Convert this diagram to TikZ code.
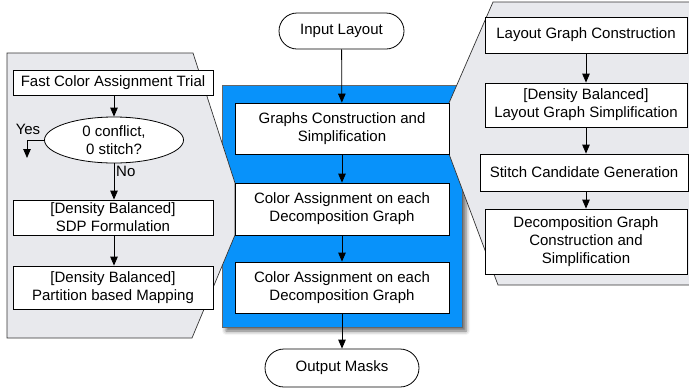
\documentclass[tikz,border=0pt]{standalone}
\usepackage{fontspec}
\setmainfont{Liberation Sans}
\usetikzlibrary{arrows.meta,shapes.geometric,shadows.blur}
\definecolor{bluebg}{RGB}{8,146,250}
\definecolor{panelgray}{RGB}{232,233,237}
\begin{document}
\begin{tikzpicture}[x=1pt,y=-1pt,
  box/.style={draw=black, line width=0.8pt, fill=white, align=center, inner sep=0pt,
    font=\fontsize{15}{18}\selectfont},
  term/.style={box, rounded corners=18pt},
  arr/.style={-{Triangle[length=9pt,width=7.5pt]}, line width=0.8pt},
  panel/.style={fill=panelgray, draw=black!80, line width=0.7pt},
  lbl/.style={font=\fontsize{15}{18}\selectfont, inner sep=0pt}]
\useasboundingbox (0,0) rectangle (689,389);

% blue container
\node[draw=black!60, line width=0.6pt, fill=bluebg, minimum width=240pt, minimum height=242pt, inner sep=0pt,
  blur shadow={shadow xshift=4pt, shadow yshift=-4pt, shadow blur radius=4pt, shadow opacity=60}]
  (blue) at (342,206) {};

% gray callout panels (on top of the blue container)
\draw[panel] (7,53) -- (193,53) -- (235,183) -- (235,235) -- (192,338) -- (7,338) -- cycle;
\draw[panel] (700,2) -- (493,2) -- (449,103) -- (449,154) -- (498,285) -- (700,285) -- cycle;

% centre nodes
\node[term, minimum width=125pt, minimum height=36pt] (input) at (341.5,31) {Input Layout};
\node[box, minimum width=214pt, minimum height=51pt] (graphs) at (342,128.5) {Graphs Construction and\\Simplification};
\node[box, minimum width=214pt, minimum height=52pt] (col1) at (342,209) {Color Assignment on each\\Decomposition Graph};
\node[box, minimum width=214pt, minimum height=51pt] (col2) at (342,287.5) {Color Assignment on each\\Decomposition Graph};
\node[term, minimum width=154pt, minimum height=38pt, rounded corners=19pt] (output) at (342,368) {Output Masks};

% left panel nodes
\node[box, minimum width=200pt, minimum height=25pt] (fast) at (113,82.5) {Fast Color Assignment Trial};
\node[box, ellipse, inner sep=-1pt, minimum width=139pt, minimum height=46pt] (dec) at (114,140) {0 conflict,\\0 stitch?};
\node[box, minimum width=200pt, minimum height=35pt] (sdp) at (113,217.5) {[Density Balanced]\\SDP Formulation};
\node[box, minimum width=200pt, minimum height=43pt] (part) at (113,287.5) {[Density Balanced]\\Partition based Mapping};

% right panel nodes
\node[box, minimum width=202pt, minimum height=36pt] (lgc) at (586,35) {Layout Graph Construction};
\node[box, minimum width=202pt, minimum height=44pt] (dbl) at (586,105) {[Density Balanced]\\Layout Graph Simplification};
\node[box, minimum width=208pt, minimum height=37pt] (scg) at (584,172.5) {Stitch Candidate Generation};
\node[box, minimum width=202pt, minimum height=65pt] (dgc) at (586,241.5) {Decomposition Graph\\Construction and\\Simplification};

% centre arrows
\draw[arr] (input) -- (graphs);
\draw[arr] (graphs) -- (col1);
\draw[arr] (col1) -- (col2);
\draw[arr] (col2) -- (output);

% left arrows
\draw[arr] (fast.south -| dec.north) -- (dec.north);
\draw[arr] (dec.south) -- (sdp.north -| dec.south);
\draw[arr] (sdp.south -| dec.south) -- (part.north -| dec.south);
\coordinate (yesend) at (27,158);
\draw[arr] (dec.west) -| (yesend);
\node[lbl] (yes) at (28,129) {Yes};
\node[lbl, anchor=west] (no) at (116,171) {No};

% right arrows
\draw[arr] (lgc.south) -- (dbl.north);
\draw[arr] (dbl.south) -- (scg.north -| dbl.south);
\draw[arr] (scg.south -| dgc.north) -- (dgc.north);
\end{tikzpicture}
\end{document}
